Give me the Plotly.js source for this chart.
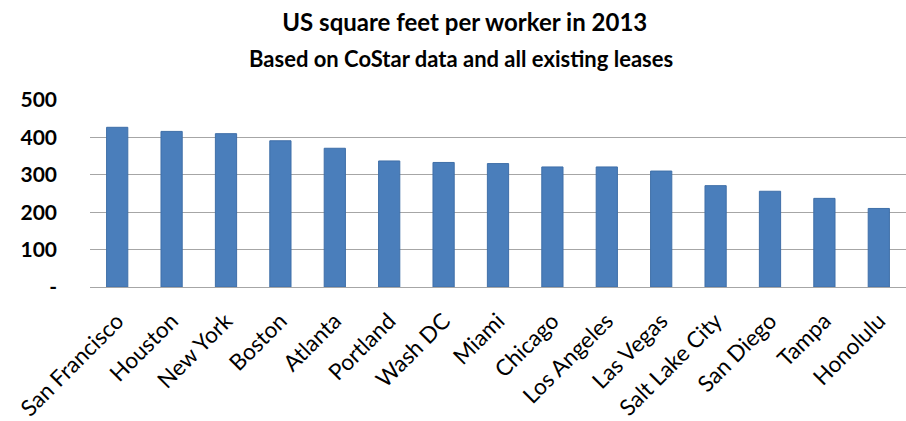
<!DOCTYPE html>
<html>
<head>
<meta charset="utf-8">
<script src="https://cdn.plot.ly/plotly-3.0.1.min.js"></script>
<style>html,body{margin:0;padding:0;background:#fff;}#chart{width:906px;height:421px;}</style>
</head>
<body>
<div id="chart"></div>
<script>
const cities = ["San Francisco","Houston","New York","Boston","Atlanta","Portland","Wash DC","Miami","Chicago","Los Angeles","Las Vegas","Salt Lake City","San Diego","Tampa","Honolulu"];
const sqftPerWorker = [427,416,410,391,371,337,333,330,321,321,310,271,256,237,210];
const yTickVals = [0,100,200,300,400,500];
const yTickText = ["-","100","200","300","400","500"];
const titleText = "US square feet per worker in 2013";
const subtitleText = "Based on CoStar data and all existing leases";

const trace = {
  type: "bar",
  x: cities,
  y: sqftPerWorker,
  marker: {color: "#4a7ebb", line: {color: "#3f6fa8", width: 1}},
  hoverinfo: "x+y"
};

const layout = {
  width: 906, height: 421,
  margin: {l: 90, r: 0, t: 100, b: 134},
  paper_bgcolor: "#ffffff",
  plot_bgcolor: "#ffffff",
  font: {family: "Lato, 'Open Sans', sans-serif", color: "#000000"},
  bargap: 0.61,
  showlegend: false,
  title: {
    text: "<b>" + titleText + "</b>",
    x: 0.513, xanchor: "center",
    y: 0.946, yanchor: "middle",
    font: {size: 24, color: "#000000", family: "Lato, sans-serif"}
  },
  annotations: [{
    text: "<b>" + subtitleText + "</b>",
    xref: "paper", yref: "paper",
    x: 0.455, xanchor: "center",
    y: 1.222, yanchor: "middle",
    showarrow: false,
    font: {size: 22, color: "#000000", family: "Lato, sans-serif"}
  }],
  xaxis: {
    type: "category",
    tickangle: -45,
    tickfont: {size: 22.5, color: "#000000"},
    showgrid: false,
    showline: true, linecolor: "#a6a6a6", linewidth: 1,
    ticks: "",
    ticklabelstandoff: 11
  },
  yaxis: {
    range: [0, 500],
    tickvals: yTickVals,
    ticktext: yTickText,
    tickfont: {size: 21, color: "#000000", family: "Lato, sans-serif", weight: "bold"},
    showgrid: true, gridcolor: "#a6a6a6", gridwidth: 1,
    zeroline: false,
    showline: false,
    ticks: "",
    ticklabelstandoff: 32
  }
};

Plotly.newPlot("chart", [trace], layout, {displayModeBar: false, staticPlot: true});
</script>
</body>
</html>
